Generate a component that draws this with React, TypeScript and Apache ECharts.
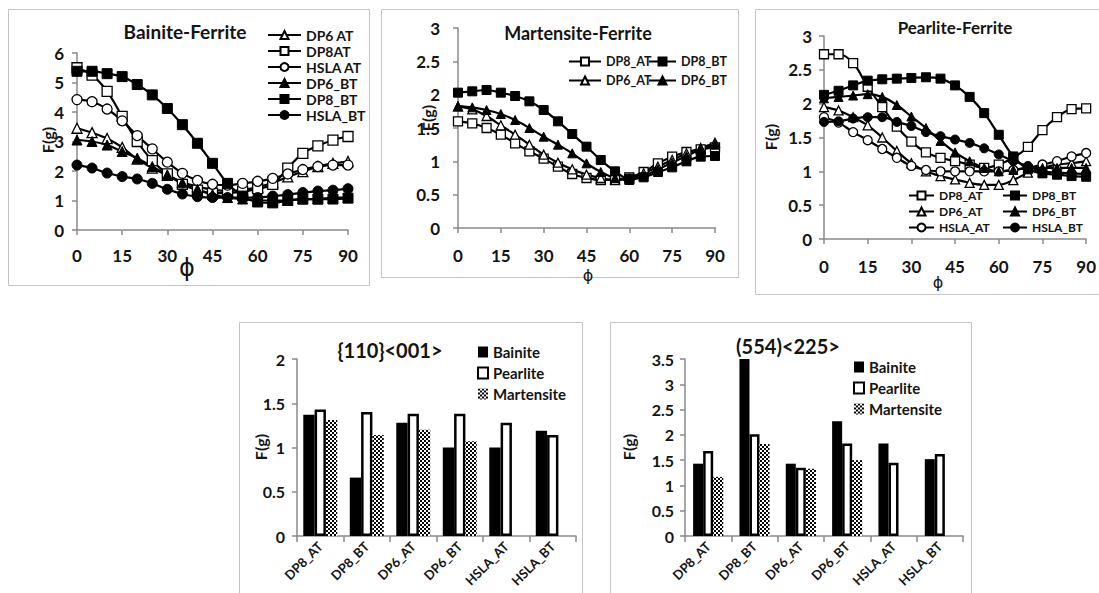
import React, { useEffect, useRef } from "react";
import * as echarts from "echarts";

const phi = [0, 5, 10, 15, 20, 25, 30, 35, 40, 45, 50, 55, 60, 65, 70, 75, 80, 85, 90];

// Bainite-Ferrite
const bf_DP6_AT = [3.45, 3.3, 3.1, 2.8, 2.4, 2.1, 1.85, 1.62, 1.47, 1.37, 1.33, 1.36, 1.45, 1.6, 1.8, 1.98, 2.15, 2.26, 2.32];
const bf_DP8_AT = [5.5, 5.25, 4.7, 3.85, 3.0, 2.35, 1.9, 1.55, 1.35, 1.25, 1.25, 1.3, 1.4, 1.55, 2.1, 2.6, 2.85, 3.05, 3.17];
const bf_HSLA_AT = [4.42, 4.35, 4.1, 3.7, 3.2, 2.75, 2.3, 1.92, 1.68, 1.55, 1.52, 1.58, 1.65, 1.75, 1.9, 2.05, 2.15, 2.2, 2.2];
const bf_DP6_BT = [3.05, 3.0, 2.88, 2.66, 2.43, 2.15, 1.87, 1.6, 1.38, 1.2, 1.1, 1.05, 1.0, 1.0, 1.0, 1.05, 1.05, 1.1, 1.1];
const bf_DP8_BT = [5.38, 5.38, 5.3, 5.2, 4.93, 4.58, 4.12, 3.57, 2.94, 2.26, 1.58, 1.15, 0.95, 0.92, 1.0, 1.05, 1.05, 1.05, 1.08];
const bf_HSLA_BT = [2.2, 2.1, 1.93, 1.81, 1.73, 1.58, 1.38, 1.22, 1.13, 1.1, 1.1, 1.1, 1.1, 1.15, 1.2, 1.27, 1.32, 1.35, 1.4];

// Martensite-Ferrite
const mf_DP8_AT = [1.6, 1.57, 1.5, 1.4, 1.27, 1.15, 1.04, 0.92, 0.81, 0.75, 0.72, 0.73, 0.76, 0.84, 0.97, 1.07, 1.14, 1.18, 1.21];
const mf_DP8_BT = [2.03, 2.05, 2.07, 2.03, 1.98, 1.9, 1.77, 1.6, 1.41, 1.22, 1.02, 0.85, 0.74, 0.76, 0.84, 0.91, 1.0, 1.07, 1.08];
const mf_DP6_AT = [1.82, 1.78, 1.68, 1.54, 1.4, 1.25, 1.1, 0.98, 0.88, 0.8, 0.75, 0.72, 0.74, 0.82, 0.92, 1.02, 1.12, 1.2, 1.28];
const mf_DP6_BT = [1.83, 1.81, 1.77, 1.71, 1.62, 1.5, 1.37, 1.25, 1.12, 0.97, 0.84, 0.75, 0.72, 0.78, 0.88, 0.98, 1.08, 1.18, 1.25];

// Pearlite-Ferrite
const pf_DP8_AT = [2.73, 2.73, 2.6, 2.25, 1.95, 1.66, 1.44, 1.28, 1.2, 1.15, 1.1, 1.05, 1.1, 1.2, 1.36, 1.61, 1.8, 1.92, 1.93];
const pf_DP8_BT = [2.13, 2.19, 2.27, 2.34, 2.36, 2.37, 2.38, 2.39, 2.37, 2.27, 2.1, 1.86, 1.54, 1.22, 1.03, 0.97, 0.95, 0.93, 0.92];
const pf_DP6_AT = [1.95, 1.9, 1.8, 1.68, 1.5, 1.3, 1.12, 1.0, 0.93, 0.88, 0.83, 0.8, 0.8, 0.87, 0.98, 1.05, 1.1, 1.12, 1.15];
const pf_DP6_BT = [2.08, 2.1, 2.12, 2.14, 2.1, 1.98, 1.81, 1.64, 1.45, 1.28, 1.15, 1.05, 1.0, 1.02, 1.05, 1.05, 1.05, 1.05, 1.05];
const pf_HSLA_AT = [1.8, 1.72, 1.58, 1.46, 1.33, 1.2, 1.08, 1.02, 1.0, 1.0, 1.0, 1.0, 1.0, 1.02, 1.05, 1.1, 1.15, 1.22, 1.27];
const pf_HSLA_BT = [1.73, 1.74, 1.78, 1.8, 1.8, 1.73, 1.67, 1.58, 1.52, 1.47, 1.42, 1.34, 1.25, 1.15, 1.08, 1.0, 0.98, 0.97, 0.96];

// Bar charts
const steels = ["DP8_AT", "DP8_BT", "DP6_AT", "DP6_BT", "HSLA_AT", "HSLA_BT"];
const b1_Bainite = [1.37, 0.66, 1.28, 1.0, 1.0, 1.19];
const b1_Pearlite = [1.43, 1.4, 1.38, 1.38, 1.28, 1.14];
const b1_Martensite = [1.31, 1.14, 1.2, 1.07, null, null];
const b2_Bainite = [1.43, 3.5, 1.43, 2.27, 1.83, 1.52];
const b2_Pearlite = [1.68, 2.01, 1.35, 1.83, 1.45, 1.62];
const b2_Martensite = [1.17, 1.82, 1.33, 1.5, null, null];

const FONT = "Lato, 'Open Sans', 'DejaVu Sans', sans-serif";
const TXT = "#141414";
const AX = "#8a8a8a";

export default function App() {
  const ref = useRef<HTMLDivElement>(null);
  useEffect(() => {
    const chart = echarts.init(ref.current!, null, { renderer: "svg" });

    const cv = document.createElement("canvas");
    cv.width = 4;
    cv.height = 4;
    const ctx = cv.getContext("2d")!;
    ctx.fillStyle = "#ffffff";
    ctx.fillRect(0, 0, 4, 4);
    ctx.fillStyle = "#000000";
    ctx.fillRect(0, 0, 2, 2);
    ctx.fillRect(2, 2, 2, 2);
    const checker: any = { image: cv, repeat: "repeat", imageWidth: 4, imageHeight: 4 };

    const openSt = (sym: string) => ({ symbol: sym, itemStyle: { color: "#fff", borderColor: "#000", borderWidth: 1.3 } });
    const fillSt = (sym: string) => ({ symbol: sym, itemStyle: { color: "#000", borderColor: "#000", borderWidth: 1 } });

    const line = (name: string, vals: number[], idx: number, st: any, size = 9) => ({
      type: "line",
      name,
      xAxisIndex: idx,
      yAxisIndex: idx,
      data: phi.map((p, i) => [p, vals[i]]),
      smooth: 0.35,
      symbolSize: size,
      lineStyle: { color: "#000", width: 2.2 },
      ...st,
    });

    const axisLineCfg = { show: true, lineStyle: { color: AX, width: 1.5 } };
    const tickCfg = { show: true, length: 5, lineStyle: { color: AX, width: 1.5 } };
    const lbl = (size: number, margin: number) => ({
      color: TXT,
      fontFamily: FONT,
      fontWeight: "bold",
      fontSize: size,
      margin,
    });

    const grids = [
      { left: 77, top: 53, width: 271, height: 177 },
      { left: 458, top: 28, width: 257, height: 200 },
      { left: 824, top: 36, width: 269, height: 203 },
      { left: 297, top: 359, width: 279, height: 177 },
      { left: 685, top: 359, width: 278, height: 177 },
    ];

    const xAxes: any[] = [0, 1, 2].map((i) => ({
      type: "value",
      gridIndex: i,
      min: 0,
      max: 90,
      interval: 15,
      axisLine: axisLineCfg,
      axisTick: tickCfg,
      splitLine: { show: false },
      axisLabel: lbl(17, i === 0 ? 17 : 19),
    }));
    [3, 4].forEach((i) =>
      xAxes.push({
        type: "category",
        gridIndex: i,
        data: steels,
        axisLine: axisLineCfg,
        axisTick: { show: true, length: 6, interval: 0, alignWithLabel: false, lineStyle: { color: AX, width: 1.5 } },
        axisLabel: {
          rotate: 45,
          interval: 0,
          margin: 8,
          color: TXT,
          fontFamily: FONT,
          fontWeight: "bold",
          fontSize: 13,
        },
      })
    );
    const yMax = [6, 3, 3, 2, 3.5];
    const yInt = [1, 0.5, 0.5, 0.5, 0.5];
    const yMargin = [13, 18, 12, 12, 11];
    const yAxes = [0, 1, 2, 3, 4].map((i) => ({
      type: "value",
      gridIndex: i,
      min: 0,
      max: yMax[i],
      interval: yInt[i],
      axisLine: axisLineCfg,
      axisTick: tickCfg,
      splitLine: { show: false },
      axisLabel: lbl(i >= 3 ? 16 : 17, yMargin[i]),
    }));

    const series: any[] = [
      line("DP6 AT", bf_DP6_AT, 0, openSt("triangle"), 10),
      line("DP8AT", bf_DP8_AT, 0, openSt("rect"), 10),
      line("HSLA AT", bf_HSLA_AT, 0, openSt("circle"), 10),
      line("DP6_BT", bf_DP6_BT, 0, fillSt("triangle"), 10),
      line("HSLA_BT", bf_HSLA_BT, 0, fillSt("circle"), 10),
      line("DP8_BT", bf_DP8_BT, 0, fillSt("rect"), 10),

      line("DP8_AT", mf_DP8_AT, 1, openSt("rect")),
      line("DP6_AT", mf_DP6_AT, 1, openSt("triangle")),
      line("DP6_BT", mf_DP6_BT, 1, fillSt("triangle")),
      line("DP8_BT", mf_DP8_BT, 1, fillSt("rect")),

      line("DP8_AT", pf_DP8_AT, 2, openSt("rect")),
      line("DP6_AT", pf_DP6_AT, 2, openSt("triangle")),
      line("HSLA_AT", pf_HSLA_AT, 2, openSt("circle")),
      line("DP6_BT", pf_DP6_BT, 2, fillSt("triangle")),
      line("HSLA_BT", pf_HSLA_BT, 2, fillSt("circle")),
      line("DP8_BT", pf_DP8_BT, 2, fillSt("rect")),
    ];

    const barSet = (idx: number, b: (number | null)[], p: (number | null)[], m: (number | null)[], gap: string) => [
      { type: "bar", name: "Bainite", xAxisIndex: idx, yAxisIndex: idx, data: b, barGap: "0%", barCategoryGap: gap, itemStyle: { color: "#000" } },
      { type: "bar", name: "Pearlite", xAxisIndex: idx, yAxisIndex: idx, data: p, barGap: "0%", barCategoryGap: gap, itemStyle: { color: "#fff", borderColor: "#000", borderWidth: 2.5 } },
      { type: "bar", name: "Martensite", xAxisIndex: idx, yAxisIndex: idx, data: m.map((v) => (v == null ? "-" : v)), barGap: "0%", barCategoryGap: gap, itemStyle: { color: checker } },
    ];
    series.push(...barSet(3, b1_Bainite, b1_Pearlite, b1_Martensite, "27%"));
    series.push(...barSet(4, b2_Bainite, b2_Pearlite, b2_Martensite, "35%"));

    const legText = (size: number) => ({ fontFamily: FONT, fontWeight: "bold", fontSize: size, color: TXT });
    const legend: any[] = [
      { orient: "vertical", left: 267, top: 28, padding: 0, itemGap: 2, itemWidth: 33, itemHeight: 10, selectedMode: false,
        data: ["DP6 AT", "DP8AT", "HSLA AT", "DP6_BT", "DP8_BT", "HSLA_BT"], textStyle: { ...legText(14), lineHeight: 13 } },
      { orient: "vertical", left: 568, top: 55, padding: 0, itemGap: 6, itemWidth: 32, itemHeight: 10, selectedMode: false,
        data: ["DP8_AT", "DP6_AT"], textStyle: { ...legText(12.5), lineHeight: 13 } },
      { orient: "vertical", left: 648, top: 55, padding: 0, itemGap: 6, itemWidth: 27, itemHeight: 10, selectedMode: false,
        data: ["DP8_BT", "DP6_BT"], textStyle: { ...legText(12.5), lineHeight: 13 } },
      { orient: "vertical", left: 908, top: 189, padding: 0, itemGap: 3, itemWidth: 25, itemHeight: 10, selectedMode: false,
        data: ["DP8_AT", "DP6_AT", "HSLA_AT"], textStyle: { ...legText(12), lineHeight: 13 } },
      { orient: "vertical", left: 1002, top: 189, padding: 0, itemGap: 3, itemWidth: 24, itemHeight: 10, selectedMode: false,
        data: ["DP8_BT", "DP6_BT", "HSLA_BT"], textStyle: { ...legText(12), lineHeight: 13 } },
      { orient: "vertical", left: 477, top: 344, padding: 0, itemGap: 5, itemWidth: 10, itemHeight: 11, icon: "rect", selectedMode: false,
        data: ["Bainite", "Pearlite", "Martensite"], textStyle: { ...legText(15), lineHeight: 16 } },
      { orient: "vertical", left: 853, top: 359, padding: 0, itemGap: 5, itemWidth: 10, itemHeight: 11, icon: "rect", selectedMode: false,
        data: ["Bainite", "Pearlite", "Martensite"], textStyle: { ...legText(15), lineHeight: 16 } },
    ];

    const boxes = [
      [8.5, 9.5, 361, 276],
      [381.5, 9.5, 357, 268],
      [755.5, 9.5, 360, 285],
      [239.5, 322.5, 343, 290],
      [610.5, 322.5, 361, 290],
    ];
    const txt = (text: string, x: number, y: number, size: number, rot = 0, family = FONT, weight = "bold") => ({
      type: "text",
      x,
      y,
      rotation: rot,
      silent: true,
      style: { text, fill: TXT, fontFamily: family, fontWeight: weight, fontSize: size, align: "center", verticalAlign: "middle" },
    });
    const PHI_FONT = "'DejaVu Sans', sans-serif";
    const graphic: any[] = [
      ...boxes.map((b) => ({ type: "rect", silent: true, z: -1, shape: { x: b[0], y: b[1], width: b[2], height: b[3] }, style: { fill: "none", stroke: "#c4c4c4", lineWidth: 1 } })),
      txt("Bainite-Ferrite", 185, 31, 19),
      txt("Martensite-Ferrite", 578, 33, 18),
      txt("Pearlite-Ferrite", 955, 27, 17),
      txt("{110}<001>", 390, 350, 20),
      txt("(554)<225>", 788, 346, 20),
      txt("F(g)", 47, 140, 16, Math.PI / 2),
      txt("F(g)", 427, 118, 16, Math.PI / 2),
      txt("F(g)", 770, 137, 16, Math.PI / 2),
      txt("F(g)", 260, 447, 16, Math.PI / 2),
      txt("F(g)", 628, 447, 16, Math.PI / 2),
      txt("ϕ", 187, 268, 24, 0, PHI_FONT, "normal"),
      txt("ϕ", 588, 275, 16, 0, PHI_FONT, "normal"),
      txt("ϕ", 938, 282, 16, 0, PHI_FONT, "normal"),
    ];

    chart.setOption({
      animation: false,
      backgroundColor: "#fff",
      grid: grids,
      xAxis: xAxes,
      yAxis: yAxes,
      legend,
      series,
      graphic,
    });

    return () => chart.dispose();
  }, []);
  return <div ref={ref} style={{ position: "absolute", left: 0, top: 0, width: 1099, height: 593 }} />;
}
